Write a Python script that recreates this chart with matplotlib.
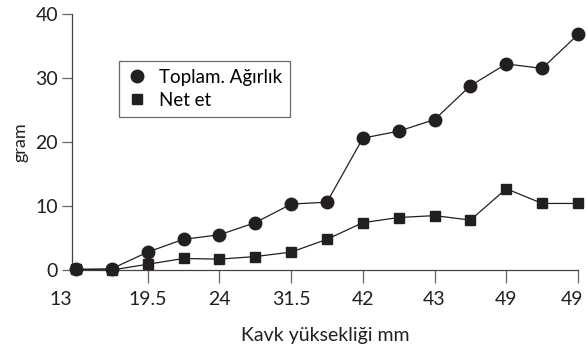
import matplotlib
matplotlib.use('agg')
import matplotlib.pyplot as plt
import matplotlib.transforms as mtransforms

plt.rcParams['font.family'] = ['Lato', 'DejaVu Sans']

# sample index along the x axis (one per measurement)
toplam = [0.1, 0.2, 2.8, 4.8, 5.5, 7.4, 10.3, 10.6, 20.6, 21.7, 23.5, 28.8, 32.2, 31.5, 36.8]
net_et = [0.1, 0.0, 0.9, 1.8, 1.7, 2.1, 2.8, 4.8, 7.4, 8.2, 8.5, 7.8, 12.7, 10.4, 10.4]
tick_labels = ['13', '19.5', '24', '31.5', '42', '43', '49', '49']
yticks = [0, 10, 20, 30, 40]

ink = '#231f20'
x = list(range(len(toplam)))

fig = plt.figure(figsize=(5.87, 3.53), dpi=100)
ax = fig.add_axes([0.1227, 0.2351, 0.8620, 0.7252])

ax.plot(x, toplam, color=ink, lw=0.9, marker='o', ms=9,
        label='Toplam. Ağırlık', clip_on=False, zorder=3)
ax.plot(x, net_et, color=ink, lw=0.9, marker='s', ms=7.5,
        label='Net et', clip_on=False, zorder=3)

ax.set_xlim(-0.11, 14)
ax.set_ylim(0, 40)
ax.set_xticks(x[::2])
ax.set_xticklabels(tick_labels)
ax.set_yticks(yticks)

for side in ['top', 'right']:
    ax.spines[side].set_visible(False)
for side in ['left', 'bottom']:
    ax.spines[side].set_color('#444444')
    ax.spines[side].set_linewidth(0.9)

ax.tick_params(axis='x', length=9, width=0.9, color='#666666', labelsize=14,
               labelcolor=ink, pad=6)
ax.tick_params(axis='y', length=7, width=0.9, color='#666666', labelsize=14,
               labelcolor=ink, pad=3)

# first label sits left of the first sample, last one is nudged inside
labels = ax.get_xticklabels()
for lab, dx in [(labels[0], -0.15), (labels[-1], -0.06)]:
    lab.set_transform(lab.get_transform() +
                      mtransforms.ScaledTranslation(dx, 0, fig.dpi_scale_trans))
ax.get_xticklines()[0].set_visible(False)

ax.set_ylabel('gram', fontsize=13, color=ink, labelpad=5)
ax.set_xlabel('Kavk yüksekliği mm', fontsize=14, color=ink, labelpad=14)

leg = ax.legend(loc='upper left', bbox_to_anchor=(0.075, 0.855), fontsize=13.5,
                frameon=True, fancybox=False, handlelength=1.0,
                handletextpad=0.65, borderpad=0.45, labelspacing=0.3)
leg.get_frame().set_edgecolor('#444444')
leg.get_frame().set_linewidth(0.9)
for h in leg.legend_handles:
    h.set_linestyle('none')

plt.savefig('out.png', dpi=100)
